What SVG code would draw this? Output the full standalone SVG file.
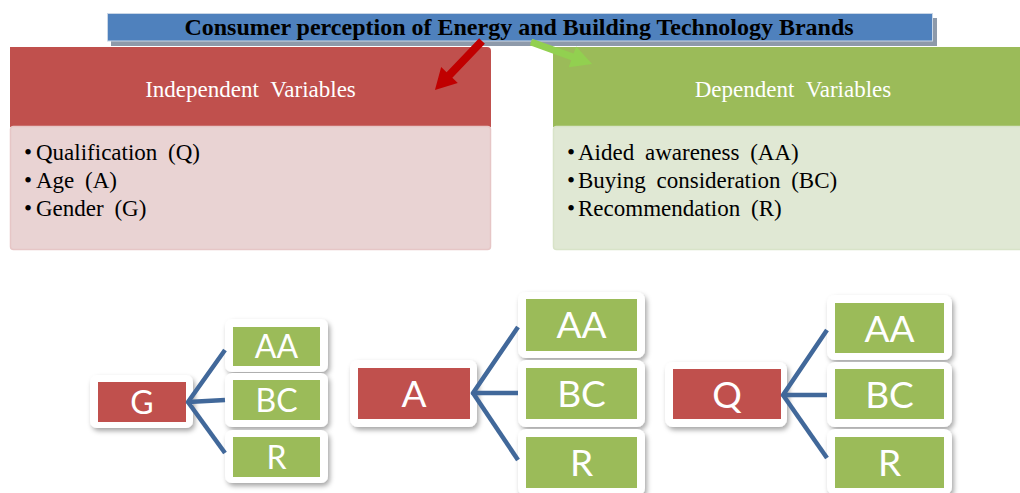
<svg xmlns="http://www.w3.org/2000/svg" width="1020" height="493" viewBox="0 0 1020 493">
<style>
.hdr{font-size:23px;fill:#ffffff;word-spacing:6px;text-anchor:middle}
.bul{font-size:23px;fill:#000000;word-spacing:5px}
.outer{fill:#ffffff;filter:url(#sh)}
.red{fill:#c0504d}
.grn{fill:#9bbb59}
.lbl{font-family:Lato,"Open Sans",sans-serif;fill:#ffffff;text-anchor:middle}
.s{font-size:32px}
.b{font-size:37px}
.con{stroke:#41689a;stroke-width:4.5;fill:none;stroke-linecap:butt;stroke-linejoin:round}
</style>
<defs>
<filter id="sh" x="-20%" y="-20%" width="150%" height="160%">
<feDropShadow dx="2" dy="3" stdDeviation="2.5" flood-color="#000000" flood-opacity="0.35"/>
</filter>
</defs>
<rect width="1020" height="493" fill="#ffffff"/>

<g id="title" font-family="'Liberation Serif', 'Times New Roman', serif">
<rect x="111" y="18" width="826" height="28" fill="#8e9aaa"/>
<rect x="107.5" y="13.5" width="825" height="27.5" fill="#4f81bd" stroke="#c9d6e6" stroke-width="1"/>
<text x="519" y="35" font-size="24" font-weight="bold" text-anchor="middle" fill="#000000">Consumer perception of Energy and Building Technology Brands</text>
</g>

<g id="independent" font-family="'Liberation Serif', 'Times New Roman', serif">
<path d="M10 47 H487 Q491 47 491 51 V127 H10 Z" class="red"/>
<rect x="10.5" y="126.5" width="480" height="123" rx="3" fill="#e9d3d3" stroke="#e6c6c6" stroke-width="1.5"/>
<text class="hdr" x="250.5" y="97">Independent Variables</text>
<text class="bul" x="24" y="160">•</text><text class="bul" x="36" y="160">Qualification (Q)</text>
<text class="bul" x="24" y="188">•</text><text class="bul" x="36" y="188">Age (A)</text>
<text class="bul" x="24" y="216">•</text><text class="bul" x="36" y="216">Gender (G)</text>
</g>

<g id="dependent" font-family="'Liberation Serif', 'Times New Roman', serif">
<rect x="553" y="47" width="480" height="80" class="grn"/>
<rect x="553.5" y="126.5" width="480" height="123" rx="3" fill="#e0e8d4" stroke="#d8e3c8" stroke-width="1.5"/>
<text class="hdr" x="793" y="97">Dependent Variables</text>
<text class="bul" x="567" y="160">•</text><text class="bul" x="578" y="160">Aided awareness (AA)</text>
<text class="bul" x="567" y="188">•</text><text class="bul" x="578" y="188">Buying consideration (BC)</text>
<text class="bul" x="567" y="216">•</text><text class="bul" x="578" y="216">Recommendation (R)</text>
</g>

<g id="arrows">
<path transform="translate(482,41) rotate(133.8)" d="M0 -4 H47 V-11.5 L68 0 L47 11.5 V4 H0 Z" fill="#c00000"/>
<path transform="translate(531,42) rotate(19.8)" d="M0 -3.5 H44 V-11 L65 0 L44 11 V3.5 H0 Z" fill="#92d050"/>
</g>

<g id="node-G">
<rect class="outer" x="90" y="375" width="103" height="53" rx="7"/>
<rect class="red" x="98" y="382" width="88" height="40"/>
<text class="lbl s" x="142" y="413.5">G</text>
</g>
<g id="node-G-AA">
<rect class="outer" x="225" y="319" width="103" height="53" rx="7"/>
<rect class="grn" x="233" y="327" width="87" height="39"/>
<text class="lbl s" x="276.5" y="358">AA</text>
</g>
<g id="node-G-BC">
<rect class="outer" x="225" y="373" width="103" height="54" rx="7"/>
<rect class="grn" x="233" y="380" width="87" height="40"/>
<text class="lbl s" x="276.5" y="411.5">BC</text>
</g>
<g id="node-G-R">
<rect class="outer" x="225" y="430" width="103" height="53" rx="7"/>
<rect class="grn" x="233" y="437" width="87" height="40"/>
<text class="lbl s" x="276.5" y="468.5">R</text>
</g>

<g id="node-A">
<rect class="outer" x="350" y="360" width="127" height="67" rx="8"/>
<rect class="red" x="358" y="368" width="112" height="51"/>
<text class="lbl b" x="414" y="407">A</text>
</g>
<g id="node-A-AA">
<rect class="outer" x="518" y="292" width="127" height="66" rx="8"/>
<rect class="grn" x="526" y="299" width="111" height="52"/>
<text class="lbl b" x="581.5" y="338.3">AA</text>
</g>
<g id="node-A-BC">
<rect class="outer" x="518" y="360" width="127" height="67" rx="8"/>
<rect class="grn" x="526" y="368" width="111" height="51"/>
<text class="lbl b" x="581.5" y="407">BC</text>
</g>
<g id="node-A-R">
<rect class="outer" x="518" y="429" width="127" height="67" rx="8"/>
<rect class="grn" x="526" y="437" width="111" height="51"/>
<text class="lbl b" x="581.5" y="476">R</text>
</g>

<g id="node-Q">
<rect class="outer" x="665" y="362" width="122" height="65" rx="8"/>
<rect class="red" x="673" y="369" width="108" height="50"/>
<text class="lbl b" x="727" y="407.5">Q</text>
</g>
<g id="node-Q-AA">
<rect class="outer" x="827" y="295" width="125" height="65" rx="8"/>
<rect class="grn" x="835" y="303" width="109" height="50"/>
<text class="lbl b" x="889.5" y="341.5">AA</text>
</g>
<g id="node-Q-BC">
<rect class="outer" x="827" y="362" width="125" height="65" rx="8"/>
<rect class="grn" x="835" y="369" width="109" height="50"/>
<text class="lbl b" x="889.5" y="407.5">BC</text>
</g>
<g id="node-Q-R">
<rect class="outer" x="827" y="429" width="125" height="66" rx="8"/>
<rect class="grn" x="835" y="437" width="109" height="51"/>
<text class="lbl b" x="889.5" y="476">R</text>
</g>

<g id="connectors">
<polyline class="con" points="225,350 188,402 225,400"/>
<polyline class="con" points="188,402 225,453"/>
<polyline class="con" points="518,327 473,393 518,393"/>
<polyline class="con" points="473,393 518,460"/>
<polyline class="con" points="827,330 783,395 827,395"/>
<polyline class="con" points="783,395 827,458"/>
</g>
</svg>
